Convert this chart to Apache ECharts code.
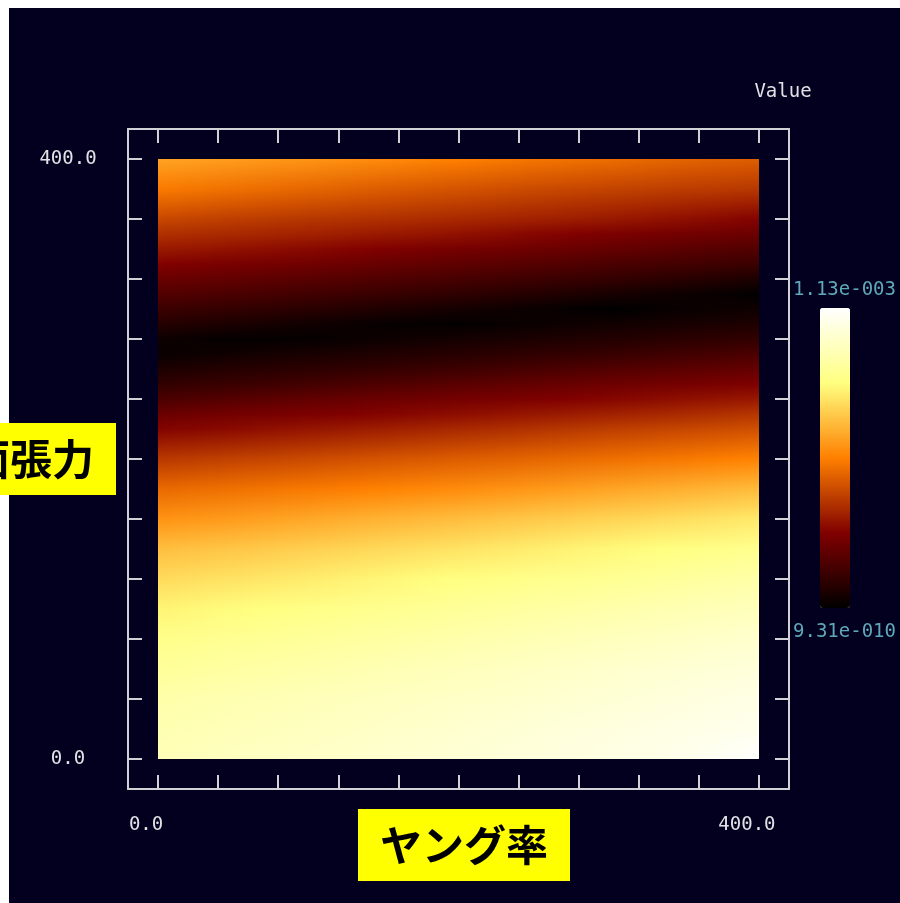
<!DOCTYPE html>
<html>
<head>
<meta charset="utf-8">
<script src="https://cdn.jsdelivr.net/npm/echarts@6/dist/echarts.min.js"></script>
<style>
html,body{margin:0;padding:0;background:#ffffff;}
#bg{position:absolute;left:9px;top:8px;width:891px;height:895px;background:#02001e;}
#main{position:absolute;left:0;top:0;width:900px;height:903px;}
</style>
</head>
<body>
<div id="bg"></div>
<div id="main"></div>
<script>
// ---- data ----
var xTitle = 'ヤング率';
var yTitle = '表面張力';
var legendTitle = 'Value';
var vMin = 9.31e-10;
var vMax = 1.13e-3;
var vMaxLabel = '1.13e-003';
var vMinLabel = '9.31e-010';
var tickValues = [0, 40, 80, 120, 160, 200, 240, 280, 320, 360, 400];
var labelValues = [0, 400];
// column positions (x) and row positions (y) of the sampled grid
var xCols = [0, 50, 100, 150, 200, 250, 300, 350, 400];
var yRows = [0, 20, 40, 60, 80, 100, 120, 140, 160, 180, 200, 220, 230, 240, 250, 260, 270, 280, 290, 300, 310, 320, 330, 340, 350, 360, 380, 400];
// values along each column, from y = 0 up to y = 400
var vX000 = [9.72e-4, 9.57e-4, 9.39e-4, 9.04e-4, 8.68e-4, 8.23e-4, 7.66e-4, 7.03e-4, 6.06e-4, 5.15e-4, 4.07e-4, 2.89e-4, 2.31e-4, 1.63e-4, 1.08e-4, 0.63e-4, 0.18e-4, 0.31e-4, 0.81e-4, 1.32e-4, 1.83e-4, 2.34e-4, 2.85e-4, 3.39e-4, 3.89e-4, 4.41e-4, 5.54e-4, 6.44e-4];
var vX050 = [9.90e-4, 9.72e-4, 9.58e-4, 9.24e-4, 8.88e-4, 8.42e-4, 7.84e-4, 7.21e-4, 6.27e-4, 5.32e-4, 4.27e-4, 3.05e-4, 2.54e-4, 1.89e-4, 1.26e-4, 0.81e-4, 0.37e-4, 0.08e-4, 0.60e-4, 1.13e-4, 1.64e-4, 2.15e-4, 2.66e-4, 3.20e-4, 3.73e-4, 4.19e-4, 5.31e-4, 6.27e-4];
var vX100 = [10.06e-4, 9.89e-4, 9.74e-4, 9.42e-4, 9.06e-4, 8.61e-4, 8.06e-4, 7.41e-4, 6.52e-4, 5.50e-4, 4.47e-4, 3.27e-4, 2.73e-4, 2.14e-4, 1.48e-4, 0.97e-4, 0.54e-4, 0.11e-4, 0.37e-4, 0.92e-4, 1.44e-4, 1.95e-4, 2.49e-4, 3.01e-4, 3.56e-4, 4.03e-4, 5.09e-4, 6.10e-4];
var vX150 = [10.23e-4, 10.06e-4, 9.89e-4, 9.62e-4, 9.24e-4, 8.81e-4, 8.29e-4, 7.64e-4, 6.78e-4, 5.70e-4, 4.69e-4, 3.49e-4, 2.90e-4, 2.36e-4, 1.73e-4, 1.14e-4, 0.71e-4, 0.29e-4, 0.15e-4, 0.69e-4, 1.24e-4, 1.76e-4, 2.28e-4, 2.81e-4, 3.38e-4, 3.89e-4, 4.86e-4, 5.88e-4];
var vX200 = [10.37e-4, 10.23e-4, 10.05e-4, 9.80e-4, 9.44e-4, 9.02e-4, 8.51e-4, 7.85e-4, 7.01e-4, 5.91e-4, 4.88e-4, 3.72e-4, 3.10e-4, 2.57e-4, 1.97e-4, 1.34e-4, 0.86e-4, 0.45e-4, 0.07e-4, 0.45e-4, 1.04e-4, 1.56e-4, 2.09e-4, 2.60e-4, 3.19e-4, 3.73e-4, 4.67e-4, 5.65e-4];
var vX250 = [10.53e-4, 10.41e-4, 10.20e-4, 9.99e-4, 9.64e-4, 9.22e-4, 8.70e-4, 8.08e-4, 7.25e-4, 6.16e-4, 5.07e-4, 3.94e-4, 3.32e-4, 2.75e-4, 2.19e-4, 1.58e-4, 1.04e-4, 0.61e-4, 0.23e-4, 0.23e-4, 0.79e-4, 1.36e-4, 1.89e-4, 2.42e-4, 2.96e-4, 3.55e-4, 4.47e-4, 5.42e-4];
var vX300 = [10.69e-4, 10.58e-4, 10.37e-4, 10.17e-4, 9.84e-4, 9.41e-4, 8.88e-4, 8.32e-4, 7.50e-4, 6.44e-4, 5.28e-4, 4.18e-4, 3.53e-4, 2.94e-4, 2.40e-4, 1.81e-4, 1.21e-4, 0.76e-4, 0.38e-4, 9.31e-10, 0.53e-4, 1.16e-4, 1.67e-4, 2.23e-4, 2.73e-4, 3.37e-4, 4.31e-4, 5.25e-4];
var vX350 = [10.88e-4, 10.74e-4, 10.55e-4, 10.34e-4, 10.01e-4, 9.62e-4, 9.11e-4, 8.55e-4, 7.74e-4, 6.70e-4, 5.49e-4, 4.38e-4, 3.76e-4, 3.14e-4, 2.58e-4, 2.01e-4, 1.44e-4, 0.93e-4, 0.52e-4, 0.17e-4, 0.29e-4, 0.90e-4, 1.48e-4, 1.99e-4, 2.54e-4, 3.14e-4, 4.17e-4, 5.03e-4];
var vX400 = [11.30e-4, 10.90e-4, 10.74e-4, 10.50e-4, 10.22e-4, 9.81e-4, 9.36e-4, 8.79e-4, 7.99e-4, 6.96e-4, 5.72e-4, 4.59e-4, 4.01e-4, 3.34e-4, 2.78e-4, 2.21e-4, 1.65e-4, 1.10e-4, 0.66e-4, 0.32e-4, 0.05e-4, 0.62e-4, 1.29e-4, 1.80e-4, 2.36e-4, 2.88e-4, 4.05e-4, 4.89e-4];
var columnValues = [vX000, vX050, vX100, vX150, vX200, vX250, vX300, vX350, vX400];
var palette = ['#000000', '#800000', '#ff8000', '#ffff80', '#ffffff'];

// ---- styles ----
var frameColor = '#d2d2d6';
var textColor = '#e2e2e6';
var monoFont = 'DejaVu Sans Mono';
var cjkFont = 'Noto Sans CJK JP';
var shadingSlices = 12; // smooth (Gouraud-like) shading slices per half column

function colorOf(v) {
  var t = (v - vMin) / (vMax - vMin);
  t = Math.max(0, Math.min(1, t));
  return echarts.color.lerp(t, palette);
}
function fmt(v) { return v.toFixed(1); }

var chart = echarts.init(document.getElementById('main'), null, {renderer: 'canvas'});

function axisCommon(pos) {
  return {
    type: 'value', position: pos, min: -20, max: 420,
    splitLine: {show: false},
    nameMoveOverlap: false,
    axisLine: {show: true, onZero: false, lineStyle: {color: frameColor, width: 2}},
    axisTick: {show: true, inside: true, length: 14, customValues: tickValues,
      lineStyle: {color: frameColor, width: 2}},
    axisLabel: {show: false}
  };
}

var xBottom = axisCommon('bottom');
xBottom.axisLabel = {show: true, customValues: labelValues, formatter: fmt, margin: 27,
  padding: [0, 24, 0, 0], color: textColor, fontFamily: monoFont, fontSize: 19};
xBottom.name = '{gap|}{t|' + xTitle + '}';
xBottom.nameLocation = 'middle';
xBottom.nameGap = 20;
xBottom.nameTextStyle = {
  rich: {
    gap: {width: 11, height: 72},
    t: {backgroundColor: '#ffff00', padding: [15, 22], fontSize: 42, lineHeight: 42,
      fontWeight: 'bold', color: '#000000', fontFamily: cjkFont}
  }
};
var xTop = axisCommon('top');

var yLeft = axisCommon('left');
yLeft.axisLabel = {show: true, customValues: labelValues, formatter: fmt, margin: 60,
  align: 'center', color: textColor, fontFamily: monoFont, fontSize: 19};
yLeft.name = yTitle;
yLeft.nameLocation = 'middle';
yLeft.nameRotate = 0;
yLeft.nameGap = 12;
yLeft.nameTextStyle = {backgroundColor: '#ffff00', padding: [15, 22], fontSize: 42, lineHeight: 42,
  fontWeight: 'bold', color: '#000000', fontFamily: cjkFont, align: 'right', verticalAlign: 'middle'};
var yRight = axisCommon('right');

var colData = xCols.map(function (x, i) { return [x, i]; });

function blendedStops(i, j, w) {
  var a = columnValues[i], b = columnValues[j];
  var n = yRows.length, yLo = yRows[0], yHi = yRows[n - 1];
  var stops = [];
  for (var k = n - 1; k >= 0; k--) {
    var v = a[k] * (1 - w) + b[k] * w;
    stops.push({offset: (yHi - yRows[k]) / (yHi - yLo), color: colorOf(v)});
  }
  return stops;
}

chart.setOption({
  backgroundColor: 'transparent',
  animation: false,
  grid: {left: 128, top: 129, width: 661, height: 660, show: false,
    containLabel: false, outerBoundsMode: 'none'},
  xAxis: [xBottom, xTop],
  yAxis: [yLeft, yRight],
  visualMap: {
    type: 'continuous', min: vMin, max: vMax, seriesIndex: [],
    orient: 'vertical', left: 820, top: 308, itemWidth: 30, itemHeight: 300,
    padding: 0, calculable: false, hoverLink: false,
    inRange: {color: palette}
  },
  graphic: {elements: [
    {type: 'text', x: 783, y: 92, style: {text: legendTitle, fill: textColor,
      font: '19px "DejaVu Sans Mono"', align: 'center', verticalAlign: 'middle'}},
    {type: 'text', x: 793, y: 290, style: {text: vMaxLabel, fill: '#5fa8ba',
      font: '19px "DejaVu Sans Mono"', align: 'left', verticalAlign: 'middle'}},
    {type: 'text', x: 793, y: 632, style: {text: vMinLabel, fill: '#5fa8ba',
      font: '19px "DejaVu Sans Mono"', align: 'left', verticalAlign: 'middle'}}
  ]},
  series: [{
    type: 'custom',
    xAxisIndex: 0, yAxisIndex: 0,
    data: colData,
    encode: {x: 0},
    renderItem: function (params, api) {
      var i = params.dataIndex;
      var x = xCols[i];
      var yLo = yRows[0], yHi = yRows[yRows.length - 1];
      var top = api.coord([x, yHi])[1];
      var bottom = api.coord([x, yLo])[1];
      var children = [];
      var sides = [];
      if (i > 0) sides.push(i - 1);
      if (i < xCols.length - 1) sides.push(i + 1);
      sides.forEach(function (j) {
        var halfW = (xCols[j] - x) / 2;
        for (var s = 0; s < shadingSlices; s++) {
          var xa = x + halfW * s / shadingSlices;
          var xb = x + halfW * (s + 1) / shadingSlices;
          var xm = (xa + xb) / 2;
          var w = Math.abs(xm - x) / Math.abs(xCols[j] - x);
          var pa = Math.round(api.coord([xa, yHi])[0]);
          var pb = Math.round(api.coord([xb, yHi])[0]);
          var left = Math.min(pa, pb), right = Math.max(pa, pb);
          if (right <= left) continue;
          children.push({
            type: 'rect',
            shape: {x: left, y: top, width: right - left, height: bottom - top},
            style: {fill: new echarts.graphic.LinearGradient(0, 0, 0, 1, blendedStops(i, j, w))}
          });
        }
      });
      return {type: 'group', children: children};
    }
  }]
});
</script>
</body>
</html>
